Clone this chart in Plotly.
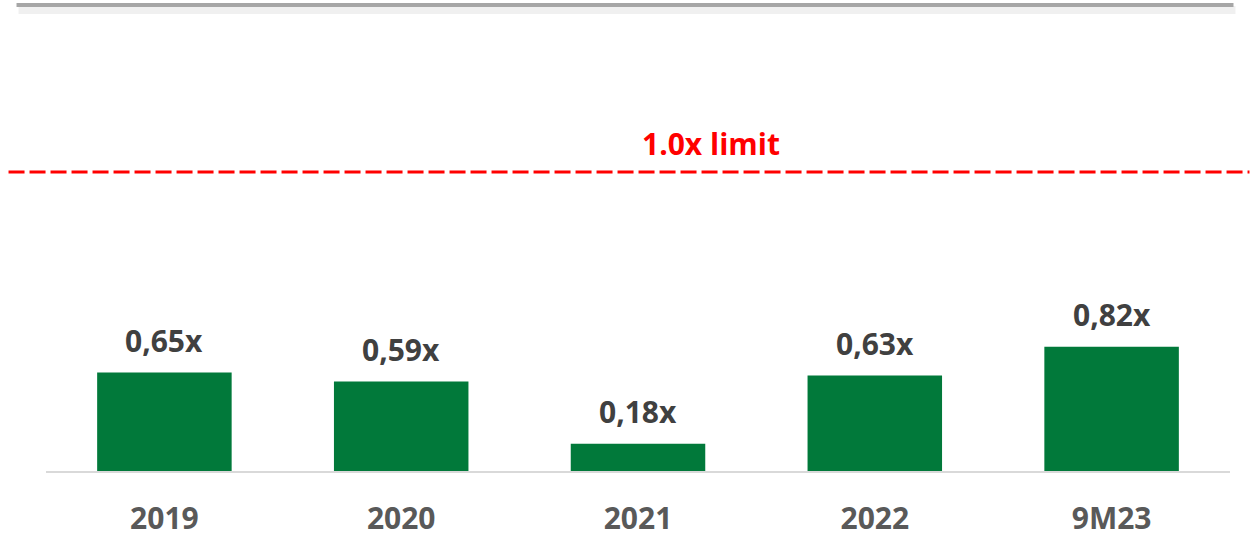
import plotly.graph_objects as go

categories = ["2019", "2020", "2021", "2022", "9M23"]
values = [0.65, 0.59, 0.18, 0.63, 0.82]
value_labels = ["0,65x", "0,59x", "0,18x", "0,63x", "0,82x"]
limit_label = "1.0x limit"

W, H = 1250, 537
mt, mb, ml, mr = 100, 66, 45.5, 19.5
plot_h = H - mt - mb
px_per_unit = 151.5
y_max = plot_h / px_per_unit

xpos = list(range(len(categories)))

fig = go.Figure()
fig.add_trace(go.Bar(
    x=xpos, y=values,
    marker=dict(color="#01793A", line=dict(width=0)),
    hoverinfo="skip",
))

for xi, v, t in zip(xpos, values, value_labels):
    fig.add_annotation(x=xi, y=v, text=f"<b>{t}</b>", showarrow=False,
                       yanchor="bottom", yshift=10,
                       font=dict(family="Open Sans", size=30, color="#404040"))

plot_w = W - ml - mr
def px_x(p):
    return (p - ml) / plot_w
def px_y(p):
    return (H - mb - p) / plot_h

# top gray rule with shadow
fig.add_shape(type="line", xref="paper", yref="paper",
              x0=px_x(18), x1=px_x(1236), y0=px_y(10), y1=px_y(10),
              line=dict(color="rgba(0,0,0,0.06)", width=8))
fig.add_shape(type="line", xref="paper", yref="paper",
              x0=px_x(16), x1=px_x(1234), y0=px_y(5), y1=px_y(5),
              line=dict(color="#A6A6A6", width=4))

# limit line
fig.add_shape(type="line", xref="paper", yref="paper",
              x0=px_x(8), x1=px_x(1250), y0=px_y(172), y1=px_y(172),
              line=dict(color="#FF0000", width=3, dash="16px,5px"))
fig.add_annotation(xref="paper", yref="paper", x=px_x(711), y=px_y(143),
                   text=f"<b>{limit_label}</b>", showarrow=False,
                   xanchor="center", yanchor="middle",
                   font=dict(family="Open Sans", size=30, color="#FF0000"))

fig.update_layout(
    width=W, height=H,
    margin=dict(t=mt, b=mb, l=ml, r=mr, pad=0, autoexpand=False),
    paper_bgcolor="white", plot_bgcolor="white",
    bargap=0.432, showlegend=False,
    xaxis=dict(range=[-0.5, len(categories) - 0.5],
               tickmode="array", tickvals=xpos,
               ticktext=[f"<b>{c}</b>" for c in categories],
               showline=True, linecolor="#D9D9D9", linewidth=1.5,
               showgrid=False, zeroline=False, ticks="", ticklabelstandoff=20,
               tickangle=0, automargin=False,
               tickfont=dict(family="Open Sans", size=30, color="#595959"),
               fixedrange=True),
    yaxis=dict(range=[0, y_max], visible=False, showgrid=False,
               zeroline=False, fixedrange=True, automargin=False),
)

fig.write_html("out.html", config={"displayModeBar": False},
               post_script="document.body.style.margin='0';")
